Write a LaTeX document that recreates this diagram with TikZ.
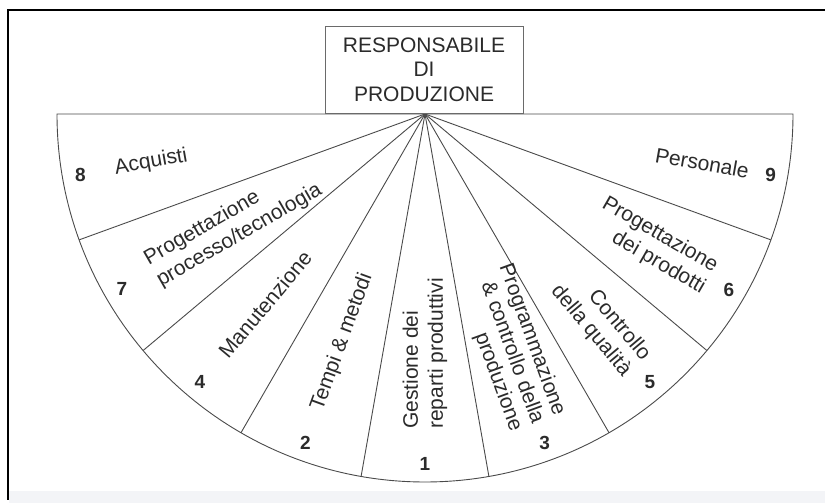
\documentclass[tikz,border=0pt]{standalone}
\usepackage{fontspec}
\setmainfont{Liberation Sans}
\definecolor{ink}{HTML}{2B2B2B}
\definecolor{linegray}{HTML}{4A4A4A}
\definecolor{boxgray}{HTML}{6A6A6A}
\definecolor{bandgray}{HTML}{F3F4F7}
\begin{document}
\begin{tikzpicture}[x=1pt,y=1pt,
  rim/.style={draw=linegray, line width=0.9pt},
  lbl/.style={text=ink, inner sep=0pt, font=\fontsize{21}{25}\selectfont},
  lleft/.style={lbl, align=left, anchor=west},
  lright/.style={lbl, align=right, anchor=east},
  num/.style={text=ink, inner sep=0pt, font=\fontsize{19}{19}\selectfont\bfseries}]
\useasboundingbox (0,0) rectangle (825,503);
\fill[white] (0,0) rectangle (825,503);
% pale strip along the lower edge
\fill[bandgray] (9,0) rectangle (825,12);
% frame
\draw[black, line width=2.2pt] (8,3) -- (8,493) -- (825,493);

% the fan
\coordinate (C) at (425,389);
\draw[rim] (C) ++(180:368) arc[start angle=180, end angle=360, radius=368] -- cycle;
\foreach \a in {200,220,...,340}{
  \coordinate (e\a) at ([shift={(\a:368)}]C);
  \draw[rim] (C) -- (e\a);
}

% head box
\node[draw=boxgray, line width=0.9pt, minimum width=198pt, minimum height=87pt,
      lbl, align=center, font=\fontsize{21}{24.5}\selectfont] (resp) at (424,433.5)
      {RESPONSABILE\\DI\\PRODUZIONE};

% sector labels, left half (reading towards the centre)
\node[lleft, rotate=10] (acq) at ([shift={(190:315)}]C) {Acquisti};
\node[lleft, rotate=30] (ppt) at ([shift={(210:315)}]C) {Progettazione\\processo/tecnologia};
\node[lleft, rotate=50] (man) at ([shift={(230:315)}]C) {Manutenzione};
\node[lleft, rotate=70] (tem) at ([shift={(250:315)}]C) {Tempi \& metodi};
\node[lleft, rotate=90] (ges) at ([shift={(270:315)}]C) {Gestione dei\\reparti produttivi};

% sector labels, right half (reading towards the rim)
\node[lright, rotate=-70, font=\fontsize{21}{23}\selectfont] (prg) at ([shift={(290:329)}]C)
      {Programmazione\\\& controllo della\\produzione};
\node[lright, rotate=-50] (con) at ([shift={(310:329)}]C) {Controllo\\della qualità};
\node[lright, rotate=-30] (pdp) at ([shift={(330:329)}]C) {Progettazione\\dei prodotti};
\node[lright, rotate=-10] (per) at ([shift={(350:329)}]C) {Personale};

% sector numbers
\node[num] (n8) at ([shift={(190:350)}]C) {8};
\node[num] (n7) at ([shift={(210:350)}]C) {7};
\node[num] (n4) at ([shift={(230:350)}]C) {4};
\node[num] (n2) at ([shift={(250:350)}]C) {2};
\node[num] (n1) at ([shift={(270:350)}]C) {1};
\node[num] (n3) at ([shift={(290:350)}]C) {3};
\node[num] (n5) at ([shift={(310:350)}]C) {5};
\node[num] (n6) at ([shift={(330:351)}]C) {6};
\node[num] (n9) at ([shift={(350:351)}]C) {9};
\end{tikzpicture}
\end{document}
